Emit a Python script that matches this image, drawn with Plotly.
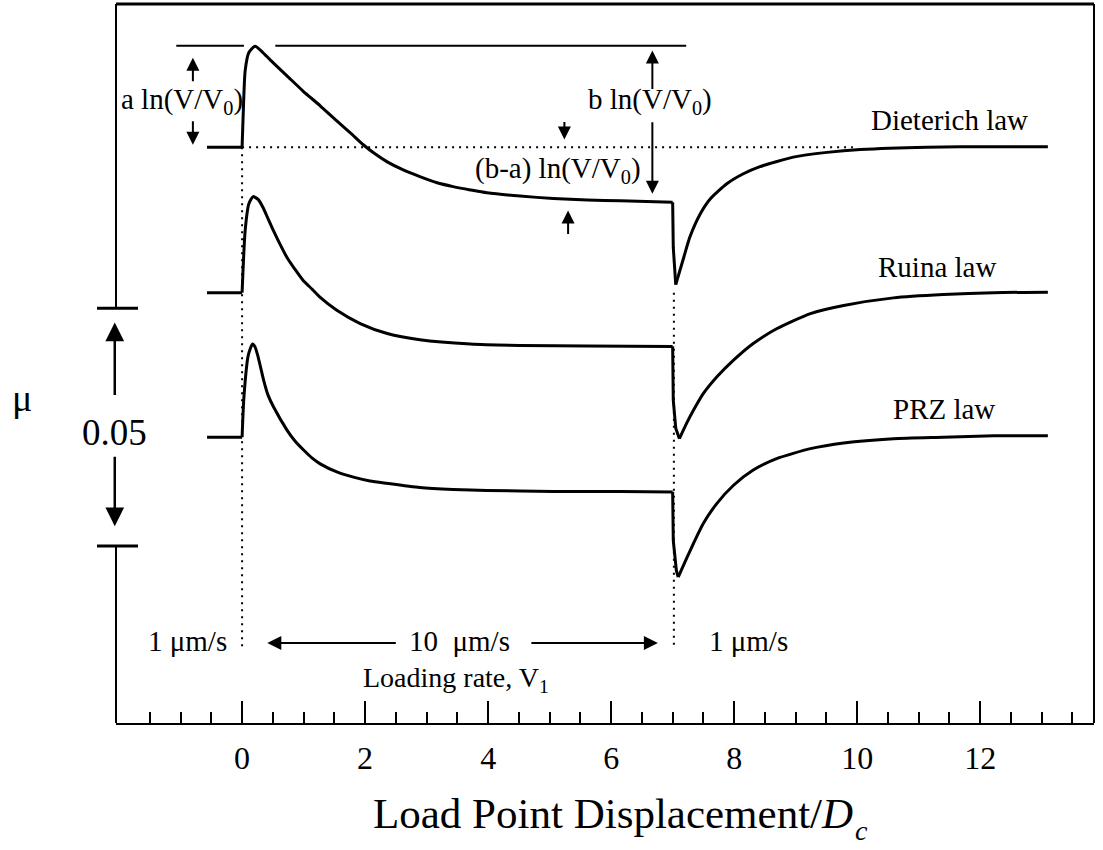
import plotly.graph_objects as go

# ---------------- data ----------------
# x: load point displacement / Dc ; mu: friction coefficient (arbitrary offset)
diet_x = [-0.57, 0.0, 0.02, 0.05, 0.11, 0.21, 0.33, 0.46, 0.73, 0.99,
          1.27, 1.54, 1.76, 1.97, 2.16, 2.36, 2.62, 2.89, 3.17, 3.43,
          3.71, 3.98, 4.52, 5.06, 5.61, 6.15, 7.0, 7.01, 7.05, 7.18,
          7.28, 7.45, 7.61, 7.88, 8.15, 8.42, 8.96, 9.51, 10.05, 11.13,
          12.21, 13.1]
diet_mu = [0.1211, 0.1211, 0.1288, 0.1372, 0.1410, 0.1423, 0.1411, 0.1394, 0.1361, 0.1329,
           0.1298, 0.1266, 0.1241, 0.1216, 0.1197, 0.1180, 0.1163, 0.1149, 0.1136, 0.1128,
           0.1121, 0.1115, 0.1108, 0.1103, 0.1100, 0.1098, 0.1095, 0.1000, 0.0922, 0.0979,
           0.1022, 0.1071, 0.1102, 0.1134, 0.1155, 0.1170, 0.1190, 0.1200, 0.1206, 0.1211,
           0.1212, 0.1212]

ruina_x = [-0.57, 0.0, 0.05, 0.11, 0.18, 0.26, 0.34, 0.42, 0.50, 0.62,
           0.73, 0.86, 0.99, 1.14, 1.27, 1.54, 1.92, 2.36, 2.89, 3.71,
           4.52, 5.61, 7.0, 7.01, 7.05, 7.11, 7.23, 7.34, 7.50, 7.72,
           7.99, 8.31, 8.69, 9.24, 9.78, 10.59, 11.40, 12.22, 13.1]
ruina_mu = [0.0905, 0.0905, 0.1036, 0.1092, 0.1107, 0.1101, 0.1084, 0.1061, 0.1038, 0.1006,
            0.0979, 0.0954, 0.0931, 0.0912, 0.0895, 0.0868, 0.0840, 0.0819, 0.0806, 0.0797,
            0.0794, 0.0793, 0.0792, 0.0679, 0.0620, 0.0598, 0.0631, 0.0658, 0.0693, 0.0728,
            0.0763, 0.0798, 0.0829, 0.0861, 0.0878, 0.0894, 0.0901, 0.0905, 0.0906]

prz_x = [-0.57, 0.0, 0.03, 0.10, 0.17, 0.21, 0.26, 0.35, 0.42, 0.51,
         0.73, 0.86, 1.00, 1.14, 1.27, 1.54, 1.81, 2.08, 2.35, 2.89,
         3.43, 3.98, 5.06, 6.15, 7.0, 7.01, 7.06, 7.09, 7.23, 7.34,
         7.50, 7.72, 7.99, 8.31, 8.69, 9.24, 9.78, 10.59, 11.40, 12.22,
         13.1]
prz_mu = [0.0601, 0.0601, 0.0686, 0.0773, 0.0797, 0.0791, 0.0770, 0.0721, 0.0690, 0.0665,
          0.0616, 0.0593, 0.0574, 0.0557, 0.0545, 0.0528, 0.0517, 0.0509, 0.0504, 0.0495,
          0.0491, 0.0489, 0.0487, 0.0487, 0.0486, 0.0384, 0.0321, 0.0307, 0.0347, 0.0378,
          0.0420, 0.0462, 0.0500, 0.0532, 0.0556, 0.0577, 0.0589, 0.0598, 0.0601, 0.0604,
          0.0604]

law_names = ["Dieterich law", "Ruina law", "PRZ law"]
# indices where the curve changes character: end of baseline, start of velocity drop, minimum
law_breaks = [[1, 26, 28], [1, 22, 25], [1, 24, 27]]

tick_vals = [0, 2, 4, 6, 8, 10, 12]
minor_vals = [-1.5, -1.0, -0.5, 0.5, 1.0, 1.5, 2.5, 3.0, 3.5, 4.5, 5.0, 5.5, 6.5, 7.0, 7.5,
              8.5, 9.0, 9.5, 10.5, 11.0, 11.5, 12.5, 13.0, 13.5]
step_x = [0.0, 7.02]
rate_labels = ["1 μm/s", "10  μm/s", "1 μm/s"]
scale_label = "0.05"
scale_mu = [0.0372, 0.0872]

# ---------------- figure ----------------
X0, X1 = -2.05, 13.85
Y0, Y1 = 0.0, 0.1512
FONT = "Liberation Serif, Times New Roman, serif"
BLK = "black"
LBL = 29

fig = go.Figure()


def add_curve(xs, ys, brk):
    b0, b1, b2 = brk
    pieces = [(0, b0, "linear"), (b0, b1, "spline"), (b1, b2, "linear"), (b2, len(xs) - 1, "spline")]
    for s, e, shape in pieces:
        line = dict(color=BLK, width=3, shape=shape)
        if shape == "spline":
            line["smoothing"] = 0.6
        fig.add_trace(go.Scatter(x=xs[s:e + 1], y=ys[s:e + 1], mode="lines", line=line,
                                 showlegend=False, hoverinfo="skip", cliponaxis=False))


for xs, ys, brk in zip([diet_x, ruina_x, prz_x], [diet_mu, ruina_mu, prz_mu], law_breaks):
    add_curve(xs, ys, brk)

DOT = dict(color=BLK, width=2, dash="2px,5px")
# dotted reference lines
fig.add_trace(go.Scatter(x=[0.0, 9.93], y=[diet_mu[0], diet_mu[0]], mode="lines",
                         line=DOT, showlegend=False, hoverinfo="skip"))
fig.add_trace(go.Scatter(x=[step_x[0], step_x[0]], y=[diet_mu[0], 0.0158], mode="lines",
                         line=DOT, showlegend=False, hoverinfo="skip"))
fig.add_trace(go.Scatter(x=[step_x[1], step_x[1]], y=[0.0905, 0.0158], mode="lines",
                         line=DOT, showlegend=False, hoverinfo="skip"))

# peak reference lines at the top
for xa, xb in [(-1.07, 0.03), (0.54, 7.22)]:
    fig.add_trace(go.Scatter(x=[xa, xb], y=[0.1424, 0.1424], mode="lines",
                             line=dict(color=BLK, width=2), showlegend=False, hoverinfo="skip"))


def py(mu):
    return (mu - Y0) / (Y1 - Y0)


def px(x):
    return (x - X0) / (X1 - X0)


shapes = []
# frame
shapes.append(dict(type="line", xref="paper", yref="paper", x0=0, x1=1, y0=1, y1=1,
                   line=dict(color=BLK, width=3)))
shapes.append(dict(type="line", xref="paper", yref="paper", x0=1, x1=1, y0=0, y1=1,
                   line=dict(color=BLK, width=2)))
shapes.append(dict(type="line", xref="paper", yref="paper", x0=0, x1=0, y0=py(scale_mu[1]), y1=1,
                   line=dict(color=BLK, width=2)))
shapes.append(dict(type="line", xref="paper", yref="paper", x0=0, x1=0, y0=0, y1=py(scale_mu[0]),
                   line=dict(color=BLK, width=2)))
for m in scale_mu:
    shapes.append(dict(type="line", xref="paper", yref="paper", x0=-0.0194, x1=0.0225,
                       y0=py(m), y1=py(m), line=dict(color=BLK, width=3)))

ann = []


def text(x, y, t, size, xref="x", yref="y", xanchor="center", yanchor="middle"):
    ann.append(dict(x=x, y=y, xref=xref, yref=yref, text=t, showarrow=False,
                    xanchor=xanchor, yanchor=yanchor,
                    font=dict(family=FONT, size=size, color=BLK)))


def arrow(x, y, dx, dy, width=2, size=1.3, xref="x", yref="y"):
    # head at (x, y); tail offset by (dx, dy) pixels
    ann.append(dict(x=x, y=y, xref=xref, yref=yref, ax=dx, ay=dy, text="", showarrow=True,
                    arrowhead=2, arrowsize=size, arrowwidth=width, arrowcolor=BLK))


# labels of laws
text(11.50, 0.1269, law_names[0], LBL)
text(11.30, 0.0958, law_names[1], LBL)
text(11.41, 0.0660, law_names[2], LBL)

# a, b, b-a annotations
text(-0.98, 0.1309, "a ln(V/V<sub>0</sub>)", LBL)
arrow(-0.80, 0.1399, 0, 25)
arrow(-0.80, 0.1216, 0, -25)
text(6.63, 0.1309, "b ln(V/V<sub>0</sub>)", LBL)
arrow(6.67, 0.1414, 0, 40)
arrow(6.67, 0.1113, 0, -73)
text(5.14, 0.1162, "(b-a) ln(V/V<sub>0</sub>)", LBL)
arrow(5.24, 0.1227, 0, -19)
arrow(5.30, 0.1078, 0, 25)

# loading-rate annotations
text(-0.88, 0.0172, rate_labels[0], LBL)
text(3.53, 0.0172, rate_labels[1], LBL)
text(8.23, 0.0172, rate_labels[2], LBL)
text(3.48, 0.0092, "Loading rate, V<sub>1</sub>", 28)
arrow(0.41, 0.0168, 130, 0, width=2, size=1.4)
arrow(6.76, 0.0168, -128, 0, width=2, size=1.4)

# scale bar
text(px(-2.07), py(0.0611), scale_label, 37, xref="paper", yref="paper")
arrow(px(-2.07), py(0.0842), 0, 74, width=2.5, size=1.5, xref="paper", yref="paper")
arrow(px(-2.07), py(0.0414), 0, -71, width=2.5, size=1.5, xref="paper", yref="paper")
text((22 - 116) / 978, py(0.0683), "μ", 38, xref="paper", yref="paper")

# axis title
text((855 - 116) / 978, -90 / 719, "Load Point Displacement/<i>D</i>", 43,
     xref="paper", yref="paper", xanchor="right")
text((861 - 116) / 978, -107 / 719, "<i>c</i>", 28, xref="paper", yref="paper")

fig.update_layout(
    width=1103, height=850,
    margin=dict(l=116, r=9, t=4, b=127),
    paper_bgcolor="white", plot_bgcolor="white",
    xaxis=dict(range=[X0, X1], showgrid=False, zeroline=False, showline=True, linecolor=BLK,
               linewidth=2, ticks="inside", ticklen=22, tickwidth=2, tickcolor=BLK,
               tickmode="array", tickvals=tick_vals, ticktext=[str(v) for v in tick_vals],
               tickfont=dict(family=FONT, size=32, color=BLK), ticklabelstandoff=6,
               minor=dict(tickmode="array", tickvals=minor_vals, ticks="inside", ticklen=11,
                          tickwidth=2, tickcolor=BLK, showgrid=False)),
    yaxis=dict(range=[Y0, Y1], visible=False, showgrid=False, zeroline=False),
    shapes=shapes, annotations=ann, showlegend=False,
)

fig.write_html("out.html")
